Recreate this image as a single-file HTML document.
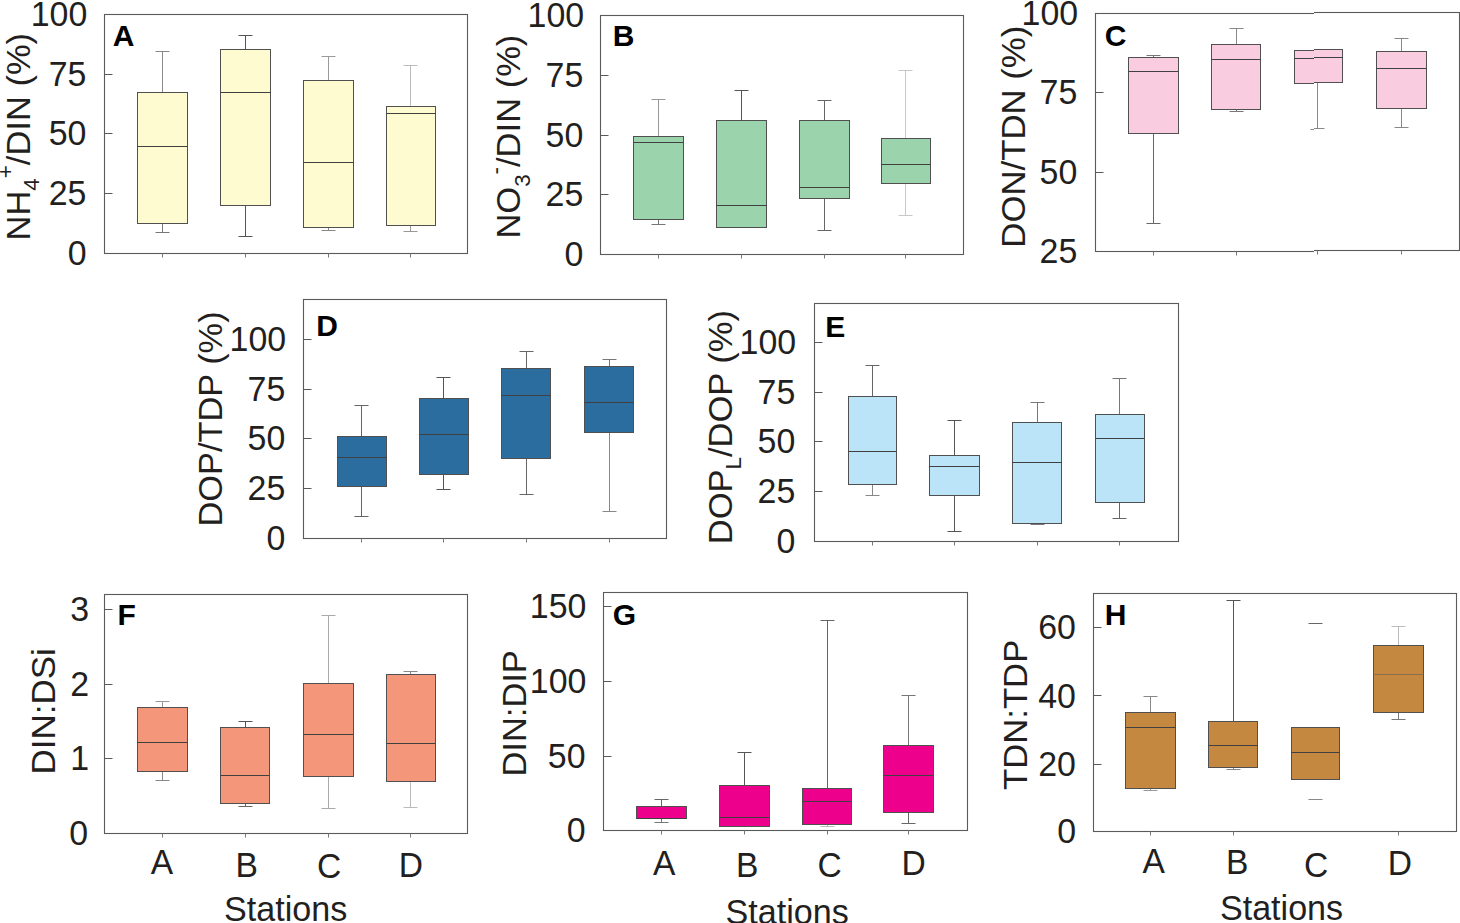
<!DOCTYPE html>
<html><head><meta charset="utf-8"><style>
html,body{margin:0;padding:0;background:#fff;overflow:hidden;}
svg{display:block;}
text{font-family:"Liberation Sans",sans-serif;}
</style></head><body>
<svg width="1460" height="923" viewBox="0 0 1460 923">
<rect width="1460" height="923" fill="#fff"/>
<defs><clipPath id="cL"><rect x="1080" y="0" width="234" height="280"/></clipPath><clipPath id="cR"><rect x="1314" y="0" width="146" height="280"/></clipPath></defs>
<path d="M162.5 51.5V92.5" stroke="#8a8a8a" stroke-width="1" fill="none"/>
<path d="M162.5 223.5V232.5" stroke="#777" stroke-width="1" fill="none"/>
<path d="M155.5 51.5H169.5" stroke="#8a8a8a" stroke-width="1" fill="none"/>
<path d="M155.5 232.5H169.5" stroke="#777" stroke-width="1" fill="none"/>
<rect x="137.5" y="92.5" width="50.0" height="131.0" fill="#fffbd0" stroke="#505050" stroke-width="1"/>
<path d="M137.5 146.5H187.5" stroke="#404040" stroke-width="1" fill="none"/>
<path d="M245.5 35.5V49.5" stroke="#555" stroke-width="1" fill="none"/>
<path d="M245.5 205.5V236.5" stroke="#555" stroke-width="1" fill="none"/>
<path d="M238.5 35.5H252.5" stroke="#555" stroke-width="1" fill="none"/>
<path d="M238.5 236.5H252.5" stroke="#555" stroke-width="1" fill="none"/>
<rect x="220.5" y="49.5" width="50.0" height="156.0" fill="#fffbd0" stroke="#505050" stroke-width="1"/>
<path d="M220.5 92.5H270.5" stroke="#404040" stroke-width="1" fill="none"/>
<path d="M328.5 56.5V80.5" stroke="#9a9a9a" stroke-width="1" fill="none"/>
<path d="M328.5 227.5V230.5" stroke="#888" stroke-width="1" fill="none"/>
<path d="M321.5 56.5H335.5" stroke="#9a9a9a" stroke-width="1" fill="none"/>
<path d="M321.5 230.5H335.5" stroke="#888" stroke-width="1" fill="none"/>
<rect x="303.5" y="80.5" width="50.0" height="147.0" fill="#fffbd0" stroke="#505050" stroke-width="1"/>
<path d="M303.5 162.5H353.5" stroke="#404040" stroke-width="1" fill="none"/>
<path d="M410.5 65.5V106.5" stroke="#bbb" stroke-width="1" fill="none"/>
<path d="M410.5 225.5V231.5" stroke="#999" stroke-width="1" fill="none"/>
<path d="M403.5 65.5H417.5" stroke="#bbb" stroke-width="1" fill="none"/>
<path d="M403.5 231.5H417.5" stroke="#999" stroke-width="1" fill="none"/>
<rect x="386.5" y="106.5" width="49.0" height="119.0" fill="#fffbd0" stroke="#505050" stroke-width="1"/>
<path d="M386.5 113.5H435.5" stroke="#404040" stroke-width="1" fill="none"/>
<rect x="104.5" y="14.5" width="363.0" height="239.0" fill="none" stroke="#5a5a5a" stroke-width="1.1"/>
<path d="M104.5 74.5H112.5M104.5 133.5H112.5M104.5 193.5H112.5" stroke="#5a5a5a" stroke-width="1" fill="none"/>
<path d="M162.5 253.5V257.5M245.5 253.5V257.5M328.5 253.5V257.5M410.5 253.5V257.5" stroke="#777" stroke-width="1" fill="none"/>
<path d="M658.5 99.5V136.5" stroke="#999" stroke-width="1" fill="none"/>
<path d="M658.5 219.5V224.5" stroke="#777" stroke-width="1" fill="none"/>
<path d="M651.5 99.5H665.5" stroke="#999" stroke-width="1" fill="none"/>
<path d="M651.5 224.5H665.5" stroke="#777" stroke-width="1" fill="none"/>
<rect x="633.5" y="136.5" width="50.0" height="83.0" fill="#9bd3ad" stroke="#505050" stroke-width="1"/>
<path d="M633.5 142.5H683.5" stroke="#404040" stroke-width="1" fill="none"/>
<path d="M741.5 90.5V120.5" stroke="#555" stroke-width="1" fill="none"/>
<path d="M741.5 227.5V227.5" stroke="#555" stroke-width="1" fill="none"/>
<path d="M734.5 90.5H748.5" stroke="#555" stroke-width="1" fill="none"/>
<path d="M734.5 227.5H748.5" stroke="#555" stroke-width="1" fill="none"/>
<rect x="716.5" y="120.5" width="50.0" height="107.0" fill="#9bd3ad" stroke="#505050" stroke-width="1"/>
<path d="M716.5 205.5H766.5" stroke="#404040" stroke-width="1" fill="none"/>
<path d="M824.5 100.5V120.5" stroke="#666" stroke-width="1" fill="none"/>
<path d="M824.5 198.5V230.5" stroke="#666" stroke-width="1" fill="none"/>
<path d="M817.5 100.5H831.5" stroke="#666" stroke-width="1" fill="none"/>
<path d="M817.5 230.5H831.5" stroke="#666" stroke-width="1" fill="none"/>
<rect x="799.5" y="120.5" width="50.0" height="78.0" fill="#9bd3ad" stroke="#505050" stroke-width="1"/>
<path d="M799.5 187.5H849.5" stroke="#404040" stroke-width="1" fill="none"/>
<path d="M905.5 70.5V138.5" stroke="#c8c8c8" stroke-width="1" fill="none"/>
<path d="M905.5 183.5V215.5" stroke="#c8c8c8" stroke-width="1" fill="none"/>
<path d="M898.5 70.5H912.5" stroke="#c8c8c8" stroke-width="1" fill="none"/>
<path d="M898.5 215.5H912.5" stroke="#c8c8c8" stroke-width="1" fill="none"/>
<rect x="881.5" y="138.5" width="49.0" height="45.0" fill="#9bd3ad" stroke="#505050" stroke-width="1"/>
<path d="M881.5 164.5H930.5" stroke="#404040" stroke-width="1" fill="none"/>
<rect x="600.5" y="15.5" width="363.0" height="239.0" fill="none" stroke="#5a5a5a" stroke-width="1.1"/>
<path d="M600.5 75.5H608.5M600.5 135.5H608.5M600.5 194.5H608.5" stroke="#5a5a5a" stroke-width="1" fill="none"/>
<path d="M658.5 254.5V258.5M741.5 254.5V258.5M824.5 254.5V258.5M905.5 254.5V258.5" stroke="#777" stroke-width="1" fill="none"/>
<g clip-path="url(#cL)"><path d="M1153.5 55.5V57.5" stroke="#777" stroke-width="1" fill="none"/><path d="M1153.5 133.5V223.5" stroke="#666" stroke-width="1" fill="none"/><path d="M1146.5 55.5H1160.5" stroke="#777" stroke-width="1" fill="none"/><path d="M1146.5 223.5H1160.5" stroke="#666" stroke-width="1" fill="none"/><rect x="1128.5" y="57.5" width="50.0" height="76.0" fill="#f9ccdf" stroke="#505050" stroke-width="1"/><path d="M1128.5 71.5H1178.5" stroke="#404040" stroke-width="1" fill="none"/><path d="M1236.5 28.5V44.5" stroke="#888" stroke-width="1" fill="none"/><path d="M1236.5 109.5V111.5" stroke="#777" stroke-width="1" fill="none"/><path d="M1229.5 28.5H1243.5" stroke="#888" stroke-width="1" fill="none"/><path d="M1229.5 111.5H1243.5" stroke="#777" stroke-width="1" fill="none"/><rect x="1211.5" y="44.5" width="49.0" height="65.0" fill="#f9ccdf" stroke="#505050" stroke-width="1"/><path d="M1211.5 59.5H1260.5" stroke="#404040" stroke-width="1" fill="none"/><path d="M1317.5 50.5V50.5" stroke="#888" stroke-width="1" fill="none"/><path d="M1317.5 83.5V129.5" stroke="#888" stroke-width="1" fill="none"/><path d="M1310.5 50.5H1324.5" stroke="#888" stroke-width="1" fill="none"/><path d="M1310.5 129.5H1324.5" stroke="#888" stroke-width="1" fill="none"/><rect x="1294.5" y="50.5" width="48.0" height="33.0" fill="#f9ccdf" stroke="#505050" stroke-width="1"/><path d="M1294.5 58.5H1342.5" stroke="#404040" stroke-width="1" fill="none"/><path d="M1401.5 39.5V52.5" stroke="#888" stroke-width="1" fill="none"/><path d="M1401.5 109.5V128.5" stroke="#888" stroke-width="1" fill="none"/><path d="M1394.5 39.5H1408.5" stroke="#888" stroke-width="1" fill="none"/><path d="M1394.5 128.5H1408.5" stroke="#888" stroke-width="1" fill="none"/><rect x="1376.5" y="52.5" width="50.0" height="57.0" fill="#f9ccdf" stroke="#505050" stroke-width="1"/><path d="M1376.5 69.5H1426.5" stroke="#404040" stroke-width="1" fill="none"/><rect x="1095.5" y="13.5" width="364.0" height="238.0" fill="none" stroke="#5a5a5a" stroke-width="1.1"/><path d="M1095.5 92.5H1103.5M1095.5 172.5H1103.5" stroke="#5a5a5a" stroke-width="1" fill="none"/><path d="M1153.5 251.5V255.5M1236.5 251.5V255.5M1317.5 251.5V255.5M1401.5 251.5V255.5" stroke="#777" stroke-width="1" fill="none"/></g>
<g transform="translate(0,-1)"><g clip-path="url(#cR)"><path d="M1153.5 55.5V57.5" stroke="#777" stroke-width="1" fill="none"/><path d="M1153.5 133.5V223.5" stroke="#666" stroke-width="1" fill="none"/><path d="M1146.5 55.5H1160.5" stroke="#777" stroke-width="1" fill="none"/><path d="M1146.5 223.5H1160.5" stroke="#666" stroke-width="1" fill="none"/><rect x="1128.5" y="57.5" width="50.0" height="76.0" fill="#f9ccdf" stroke="#505050" stroke-width="1"/><path d="M1128.5 71.5H1178.5" stroke="#404040" stroke-width="1" fill="none"/><path d="M1236.5 28.5V44.5" stroke="#888" stroke-width="1" fill="none"/><path d="M1236.5 109.5V111.5" stroke="#777" stroke-width="1" fill="none"/><path d="M1229.5 28.5H1243.5" stroke="#888" stroke-width="1" fill="none"/><path d="M1229.5 111.5H1243.5" stroke="#777" stroke-width="1" fill="none"/><rect x="1211.5" y="44.5" width="49.0" height="65.0" fill="#f9ccdf" stroke="#505050" stroke-width="1"/><path d="M1211.5 59.5H1260.5" stroke="#404040" stroke-width="1" fill="none"/><path d="M1317.5 50.5V50.5" stroke="#888" stroke-width="1" fill="none"/><path d="M1317.5 83.5V129.5" stroke="#888" stroke-width="1" fill="none"/><path d="M1310.5 50.5H1324.5" stroke="#888" stroke-width="1" fill="none"/><path d="M1310.5 129.5H1324.5" stroke="#888" stroke-width="1" fill="none"/><rect x="1294.5" y="50.5" width="48.0" height="33.0" fill="#f9ccdf" stroke="#505050" stroke-width="1"/><path d="M1294.5 58.5H1342.5" stroke="#404040" stroke-width="1" fill="none"/><path d="M1401.5 39.5V52.5" stroke="#888" stroke-width="1" fill="none"/><path d="M1401.5 109.5V128.5" stroke="#888" stroke-width="1" fill="none"/><path d="M1394.5 39.5H1408.5" stroke="#888" stroke-width="1" fill="none"/><path d="M1394.5 128.5H1408.5" stroke="#888" stroke-width="1" fill="none"/><rect x="1376.5" y="52.5" width="50.0" height="57.0" fill="#f9ccdf" stroke="#505050" stroke-width="1"/><path d="M1376.5 69.5H1426.5" stroke="#404040" stroke-width="1" fill="none"/><rect x="1095.5" y="13.5" width="364.0" height="238.0" fill="none" stroke="#5a5a5a" stroke-width="1.1"/><path d="M1095.5 92.5H1103.5M1095.5 172.5H1103.5" stroke="#5a5a5a" stroke-width="1" fill="none"/><path d="M1153.5 251.5V255.5M1236.5 251.5V255.5M1317.5 251.5V255.5M1401.5 251.5V255.5" stroke="#777" stroke-width="1" fill="none"/></g></g>
<path d="M361.5 405.5V436.5" stroke="#666" stroke-width="1" fill="none"/>
<path d="M361.5 486.5V516.5" stroke="#666" stroke-width="1" fill="none"/>
<path d="M354.5 405.5H368.5" stroke="#666" stroke-width="1" fill="none"/>
<path d="M354.5 516.5H368.5" stroke="#666" stroke-width="1" fill="none"/>
<rect x="337.5" y="436.5" width="49.0" height="50.0" fill="#2c6da0" stroke="#505050" stroke-width="1"/>
<path d="M337.5 457.5H386.5" stroke="#404040" stroke-width="1" fill="none"/>
<path d="M443.5 377.5V398.5" stroke="#555" stroke-width="1" fill="none"/>
<path d="M443.5 474.5V489.5" stroke="#555" stroke-width="1" fill="none"/>
<path d="M436.5 377.5H450.5" stroke="#555" stroke-width="1" fill="none"/>
<path d="M436.5 489.5H450.5" stroke="#555" stroke-width="1" fill="none"/>
<rect x="419.5" y="398.5" width="49.0" height="76.0" fill="#2c6da0" stroke="#505050" stroke-width="1"/>
<path d="M419.5 434.5H468.5" stroke="#404040" stroke-width="1" fill="none"/>
<path d="M526.5 351.5V368.5" stroke="#666" stroke-width="1" fill="none"/>
<path d="M526.5 458.5V494.5" stroke="#666" stroke-width="1" fill="none"/>
<path d="M519.5 351.5H533.5" stroke="#666" stroke-width="1" fill="none"/>
<path d="M519.5 494.5H533.5" stroke="#666" stroke-width="1" fill="none"/>
<rect x="501.5" y="368.5" width="49.0" height="90.0" fill="#2c6da0" stroke="#505050" stroke-width="1"/>
<path d="M501.5 395.5H550.5" stroke="#404040" stroke-width="1" fill="none"/>
<path d="M609.5 359.5V366.5" stroke="#777" stroke-width="1" fill="none"/>
<path d="M609.5 432.5V511.5" stroke="#888" stroke-width="1" fill="none"/>
<path d="M602.5 359.5H616.5" stroke="#777" stroke-width="1" fill="none"/>
<path d="M602.5 511.5H616.5" stroke="#888" stroke-width="1" fill="none"/>
<rect x="584.5" y="366.5" width="49.0" height="66.0" fill="#2c6da0" stroke="#505050" stroke-width="1"/>
<path d="M584.5 402.5H633.5" stroke="#404040" stroke-width="1" fill="none"/>
<rect x="303.5" y="299.5" width="363.0" height="239.0" fill="none" stroke="#5a5a5a" stroke-width="1.1"/>
<path d="M303.5 339.5H311.5M303.5 389.5H311.5M303.5 438.5H311.5M303.5 488.5H311.5" stroke="#5a5a5a" stroke-width="1" fill="none"/>
<path d="M361.5 538.5V542.5M443.5 538.5V542.5M526.5 538.5V542.5M609.5 538.5V542.5" stroke="#777" stroke-width="1" fill="none"/>
<path d="M872.5 365.5V396.5" stroke="#666" stroke-width="1" fill="none"/>
<path d="M872.5 484.5V495.5" stroke="#888" stroke-width="1" fill="none"/>
<path d="M865.5 365.5H879.5" stroke="#666" stroke-width="1" fill="none"/>
<path d="M865.5 495.5H879.5" stroke="#888" stroke-width="1" fill="none"/>
<rect x="848.5" y="396.5" width="48.0" height="88.0" fill="#bce4f9" stroke="#505050" stroke-width="1"/>
<path d="M848.5 451.5H896.5" stroke="#404040" stroke-width="1" fill="none"/>
<path d="M954.5 420.5V455.5" stroke="#555" stroke-width="1" fill="none"/>
<path d="M954.5 495.5V531.5" stroke="#555" stroke-width="1" fill="none"/>
<path d="M947.5 420.5H961.5" stroke="#555" stroke-width="1" fill="none"/>
<path d="M947.5 531.5H961.5" stroke="#555" stroke-width="1" fill="none"/>
<rect x="929.5" y="455.5" width="50.0" height="40.0" fill="#bce4f9" stroke="#505050" stroke-width="1"/>
<path d="M929.5 466.5H979.5" stroke="#404040" stroke-width="1" fill="none"/>
<path d="M1037.5 402.5V422.5" stroke="#777" stroke-width="1" fill="none"/>
<path d="M1037.5 523.5V524.5" stroke="#777" stroke-width="1" fill="none"/>
<path d="M1030.5 402.5H1044.5" stroke="#777" stroke-width="1" fill="none"/>
<path d="M1030.5 524.5H1044.5" stroke="#777" stroke-width="1" fill="none"/>
<rect x="1012.5" y="422.5" width="49.0" height="101.0" fill="#bce4f9" stroke="#505050" stroke-width="1"/>
<path d="M1012.5 462.5H1061.5" stroke="#404040" stroke-width="1" fill="none"/>
<path d="M1119.5 378.5V414.5" stroke="#777" stroke-width="1" fill="none"/>
<path d="M1119.5 502.5V518.5" stroke="#666" stroke-width="1" fill="none"/>
<path d="M1112.5 378.5H1126.5" stroke="#777" stroke-width="1" fill="none"/>
<path d="M1112.5 518.5H1126.5" stroke="#666" stroke-width="1" fill="none"/>
<rect x="1095.5" y="414.5" width="49.0" height="88.0" fill="#bce4f9" stroke="#505050" stroke-width="1"/>
<path d="M1095.5 438.5H1144.5" stroke="#404040" stroke-width="1" fill="none"/>
<rect x="814.5" y="303.5" width="364.0" height="238.0" fill="none" stroke="#5a5a5a" stroke-width="1.1"/>
<path d="M814.5 342.5H822.5M814.5 392.5H822.5M814.5 441.5H822.5M814.5 491.5H822.5" stroke="#5a5a5a" stroke-width="1" fill="none"/>
<path d="M872.5 541.5V545.5M954.5 541.5V545.5M1037.5 541.5V545.5M1119.5 541.5V545.5" stroke="#777" stroke-width="1" fill="none"/>
<path d="M162.5 701.5V707.5" stroke="#999" stroke-width="1" fill="none"/>
<path d="M162.5 771.5V780.5" stroke="#888" stroke-width="1" fill="none"/>
<path d="M155.5 701.5H169.5" stroke="#999" stroke-width="1" fill="none"/>
<path d="M155.5 780.5H169.5" stroke="#888" stroke-width="1" fill="none"/>
<rect x="137.5" y="707.5" width="50.0" height="64.0" fill="#f4967a" stroke="#505050" stroke-width="1"/>
<path d="M137.5 742.5H187.5" stroke="#404040" stroke-width="1" fill="none"/>
<path d="M245.5 721.5V727.5" stroke="#555" stroke-width="1" fill="none"/>
<path d="M245.5 803.5V806.5" stroke="#666" stroke-width="1" fill="none"/>
<path d="M238.5 721.5H252.5" stroke="#555" stroke-width="1" fill="none"/>
<path d="M238.5 806.5H252.5" stroke="#666" stroke-width="1" fill="none"/>
<rect x="220.5" y="727.5" width="49.0" height="76.0" fill="#f4967a" stroke="#505050" stroke-width="1"/>
<path d="M220.5 775.5H269.5" stroke="#404040" stroke-width="1" fill="none"/>
<path d="M328.5 615.5V683.5" stroke="#aaa" stroke-width="1" fill="none"/>
<path d="M328.5 776.5V808.5" stroke="#aaa" stroke-width="1" fill="none"/>
<path d="M321.5 615.5H335.5" stroke="#aaa" stroke-width="1" fill="none"/>
<path d="M321.5 808.5H335.5" stroke="#aaa" stroke-width="1" fill="none"/>
<rect x="303.5" y="683.5" width="50.0" height="93.0" fill="#f4967a" stroke="#505050" stroke-width="1"/>
<path d="M303.5 734.5H353.5" stroke="#404040" stroke-width="1" fill="none"/>
<path d="M410.5 671.5V674.5" stroke="#888" stroke-width="1" fill="none"/>
<path d="M410.5 781.5V807.5" stroke="#bbb" stroke-width="1" fill="none"/>
<path d="M403.5 671.5H417.5" stroke="#888" stroke-width="1" fill="none"/>
<path d="M403.5 807.5H417.5" stroke="#bbb" stroke-width="1" fill="none"/>
<rect x="386.5" y="674.5" width="49.0" height="107.0" fill="#f4967a" stroke="#505050" stroke-width="1"/>
<path d="M386.5 743.5H435.5" stroke="#404040" stroke-width="1" fill="none"/>
<rect x="104.5" y="594.5" width="363.0" height="239.0" fill="none" stroke="#5a5a5a" stroke-width="1.1"/>
<path d="M104.5 609.5H112.5M104.5 684.5H112.5M104.5 758.5H112.5" stroke="#5a5a5a" stroke-width="1" fill="none"/>
<path d="M162.5 833.5V837.5M245.5 833.5V837.5M328.5 833.5V837.5M410.5 833.5V837.5" stroke="#777" stroke-width="1" fill="none"/>
<path d="M661.5 799.5V806.5" stroke="#666" stroke-width="1" fill="none"/>
<path d="M661.5 818.5V822.5" stroke="#777" stroke-width="1" fill="none"/>
<path d="M654.5 799.5H668.5" stroke="#666" stroke-width="1" fill="none"/>
<path d="M654.5 822.5H668.5" stroke="#777" stroke-width="1" fill="none"/>
<rect x="636.5" y="806.5" width="50.0" height="12.0" fill="#ec008c" stroke="#505050" stroke-width="1"/>
<path d="M636.5 818.5H686.5" stroke="#404040" stroke-width="1" fill="none"/>
<path d="M744.5 752.5V785.5" stroke="#555" stroke-width="1" fill="none"/>
<path d="M744.5 826.5V826.5" stroke="#555" stroke-width="1" fill="none"/>
<path d="M737.5 752.5H751.5" stroke="#555" stroke-width="1" fill="none"/>
<path d="M737.5 826.5H751.5" stroke="#555" stroke-width="1" fill="none"/>
<rect x="719.5" y="785.5" width="50.0" height="41.0" fill="#ec008c" stroke="#505050" stroke-width="1"/>
<path d="M719.5 817.5H769.5" stroke="#404040" stroke-width="1" fill="none"/>
<path d="M827.5 620.5V788.5" stroke="#666" stroke-width="1" fill="none"/>
<path d="M827.5 824.5V826.5" stroke="#bbb" stroke-width="1" fill="none"/>
<path d="M820.5 620.5H834.5" stroke="#666" stroke-width="1" fill="none"/>
<path d="M820.5 826.5H834.5" stroke="#bbb" stroke-width="1" fill="none"/>
<rect x="802.5" y="788.5" width="49.0" height="36.0" fill="#ec008c" stroke="#505050" stroke-width="1"/>
<path d="M802.5 801.5H851.5" stroke="#404040" stroke-width="1" fill="none"/>
<path d="M908.5 695.5V745.5" stroke="#777" stroke-width="1" fill="none"/>
<path d="M908.5 812.5V823.5" stroke="#666" stroke-width="1" fill="none"/>
<path d="M901.5 695.5H915.5" stroke="#777" stroke-width="1" fill="none"/>
<path d="M901.5 823.5H915.5" stroke="#666" stroke-width="1" fill="none"/>
<rect x="883.5" y="745.5" width="50.0" height="67.0" fill="#ec008c" stroke="#505050" stroke-width="1"/>
<path d="M883.5 775.5H933.5" stroke="#404040" stroke-width="1" fill="none"/>
<rect x="603.5" y="592.5" width="364.0" height="238.0" fill="none" stroke="#5a5a5a" stroke-width="1.1"/>
<path d="M603.5 606.5H611.5M603.5 681.5H611.5M603.5 756.5H611.5" stroke="#5a5a5a" stroke-width="1" fill="none"/>
<path d="M661.5 830.5V834.5M744.5 830.5V834.5M827.5 830.5V834.5M908.5 830.5V834.5" stroke="#777" stroke-width="1" fill="none"/>
<path d="M1150.5 696.5V712.5" stroke="#888" stroke-width="1" fill="none"/>
<path d="M1150.5 788.5V790.5" stroke="#999" stroke-width="1" fill="none"/>
<path d="M1143.5 696.5H1157.5" stroke="#888" stroke-width="1" fill="none"/>
<path d="M1143.5 790.5H1157.5" stroke="#999" stroke-width="1" fill="none"/>
<rect x="1125.5" y="712.5" width="50.0" height="76.0" fill="#c48840" stroke="#505050" stroke-width="1"/>
<path d="M1125.5 727.5H1175.5" stroke="#404040" stroke-width="1" fill="none"/>
<path d="M1233.5 600.5V721.5" stroke="#555" stroke-width="1" fill="none"/>
<path d="M1233.5 767.5V769.5" stroke="#888" stroke-width="1" fill="none"/>
<path d="M1226.5 600.5H1240.5" stroke="#555" stroke-width="1" fill="none"/>
<path d="M1226.5 769.5H1240.5" stroke="#888" stroke-width="1" fill="none"/>
<rect x="1208.5" y="721.5" width="49.0" height="46.0" fill="#c48840" stroke="#505050" stroke-width="1"/>
<path d="M1208.5 745.5H1257.5" stroke="#404040" stroke-width="1" fill="none"/>
<path d="M1308.5 623.5H1322.5" stroke="#666" stroke-width="1" fill="none"/>
<path d="M1308.5 799.5H1322.5" stroke="#888" stroke-width="1" fill="none"/>
<rect x="1291.5" y="727.5" width="48.0" height="52.0" fill="#c48840" stroke="#505050" stroke-width="1"/>
<path d="M1291.5 752.5H1339.5" stroke="#404040" stroke-width="1" fill="none"/>
<path d="M1398.5 626.5V645.5" stroke="#bbb" stroke-width="1" fill="none"/>
<path d="M1398.5 712.5V719.5" stroke="#777" stroke-width="1" fill="none"/>
<path d="M1391.5 626.5H1405.5" stroke="#bbb" stroke-width="1" fill="none"/>
<path d="M1391.5 719.5H1405.5" stroke="#777" stroke-width="1" fill="none"/>
<rect x="1373.5" y="645.5" width="50.0" height="67.0" fill="#c48840" stroke="#505050" stroke-width="1"/>
<path d="M1373.5 674.5H1423.5" stroke="#8a6d4a" stroke-width="1" fill="none"/>
<rect x="1093.5" y="593.5" width="363.0" height="238.0" fill="none" stroke="#5a5a5a" stroke-width="1.1"/>
<path d="M1093.5 627.5H1101.5M1093.5 695.5H1101.5M1093.5 764.5H1101.5" stroke="#5a5a5a" stroke-width="1" fill="none"/>
<path d="M1150.5 831.5V835.5M1233.5 831.5V835.5M1398.5 831.5V835.5" stroke="#777" stroke-width="1" fill="none"/>
<text transform="translate(30.700,25.800) scale(0.97,1)" x="0" y="0" font-size="35" font-weight="normal" text-anchor="start" fill="#231f20">100</text>
<text transform="translate(48.700,85.900) scale(0.97,1)" x="0" y="0" font-size="35" font-weight="normal" text-anchor="start" fill="#231f20">75</text>
<text transform="translate(48.700,145.100) scale(0.97,1)" x="0" y="0" font-size="35" font-weight="normal" text-anchor="start" fill="#231f20">50</text>
<text transform="translate(48.700,205.000) scale(0.97,1)" x="0" y="0" font-size="35" font-weight="normal" text-anchor="start" fill="#231f20">25</text>
<text transform="translate(67.700,265.000) scale(0.97,1)" x="0" y="0" font-size="35" font-weight="normal" text-anchor="start" fill="#231f20">0</text>
<text transform="translate(112.800,45.600)" x="0" y="0" font-size="30" font-weight="bold" text-anchor="start" fill="#000">A</text>
<text transform="translate(527.500,26.800) scale(0.97,1)" x="0" y="0" font-size="35" font-weight="normal" text-anchor="start" fill="#231f20">100</text>
<text transform="translate(545.500,87.000) scale(0.97,1)" x="0" y="0" font-size="35" font-weight="normal" text-anchor="start" fill="#231f20">75</text>
<text transform="translate(545.500,147.000) scale(0.97,1)" x="0" y="0" font-size="35" font-weight="normal" text-anchor="start" fill="#231f20">50</text>
<text transform="translate(545.500,206.000) scale(0.97,1)" x="0" y="0" font-size="35" font-weight="normal" text-anchor="start" fill="#231f20">25</text>
<text transform="translate(564.500,265.800) scale(0.97,1)" x="0" y="0" font-size="35" font-weight="normal" text-anchor="start" fill="#231f20">0</text>
<text transform="translate(612.800,45.800)" x="0" y="0" font-size="30" font-weight="bold" text-anchor="start" fill="#000">B</text>
<text transform="translate(1021.600,25.000) scale(0.97,1)" x="0" y="0" font-size="35" font-weight="normal" text-anchor="start" fill="#231f20">100</text>
<text transform="translate(1039.600,104.000) scale(0.97,1)" x="0" y="0" font-size="35" font-weight="normal" text-anchor="start" fill="#231f20">75</text>
<text transform="translate(1039.600,183.600) scale(0.97,1)" x="0" y="0" font-size="35" font-weight="normal" text-anchor="start" fill="#231f20">50</text>
<text transform="translate(1039.600,263.400) scale(0.97,1)" x="0" y="0" font-size="35" font-weight="normal" text-anchor="start" fill="#231f20">25</text>
<text transform="translate(1104.850,45.550)" x="0" y="0" font-size="30" font-weight="bold" text-anchor="start" fill="#000">C</text>
<text transform="translate(229.600,351.000) scale(0.97,1)" x="0" y="0" font-size="35" font-weight="normal" text-anchor="start" fill="#231f20">100</text>
<text transform="translate(247.600,400.900) scale(0.97,1)" x="0" y="0" font-size="35" font-weight="normal" text-anchor="start" fill="#231f20">75</text>
<text transform="translate(247.600,450.100) scale(0.97,1)" x="0" y="0" font-size="35" font-weight="normal" text-anchor="start" fill="#231f20">50</text>
<text transform="translate(247.600,499.900) scale(0.97,1)" x="0" y="0" font-size="35" font-weight="normal" text-anchor="start" fill="#231f20">25</text>
<text transform="translate(266.600,549.900) scale(0.97,1)" x="0" y="0" font-size="35" font-weight="normal" text-anchor="start" fill="#231f20">0</text>
<text transform="translate(316.250,336.450)" x="0" y="0" font-size="30" font-weight="bold" text-anchor="start" fill="#000">D</text>
<text transform="translate(739.600,354.000) scale(0.97,1)" x="0" y="0" font-size="35" font-weight="normal" text-anchor="start" fill="#231f20">100</text>
<text transform="translate(757.600,404.000) scale(0.97,1)" x="0" y="0" font-size="35" font-weight="normal" text-anchor="start" fill="#231f20">75</text>
<text transform="translate(757.600,453.400) scale(0.97,1)" x="0" y="0" font-size="35" font-weight="normal" text-anchor="start" fill="#231f20">50</text>
<text transform="translate(757.600,503.100) scale(0.97,1)" x="0" y="0" font-size="35" font-weight="normal" text-anchor="start" fill="#231f20">25</text>
<text transform="translate(776.600,552.700) scale(0.97,1)" x="0" y="0" font-size="35" font-weight="normal" text-anchor="start" fill="#231f20">0</text>
<text transform="translate(825.250,336.500)" x="0" y="0" font-size="30" font-weight="bold" text-anchor="start" fill="#000">E</text>
<text transform="translate(70.300,621.200) scale(0.97,1)" x="0" y="0" font-size="35" font-weight="normal" text-anchor="start" fill="#231f20">3</text>
<text transform="translate(70.300,696.100) scale(0.97,1)" x="0" y="0" font-size="35" font-weight="normal" text-anchor="start" fill="#231f20">2</text>
<text transform="translate(70.300,770.300) scale(0.97,1)" x="0" y="0" font-size="35" font-weight="normal" text-anchor="start" fill="#231f20">1</text>
<text transform="translate(69.300,845.000) scale(0.97,1)" x="0" y="0" font-size="35" font-weight="normal" text-anchor="start" fill="#231f20">0</text>
<text transform="translate(117.600,624.800)" x="0" y="0" font-size="30" font-weight="bold" text-anchor="start" fill="#000">F</text>
<text transform="translate(529.800,618.400) scale(0.97,1)" x="0" y="0" font-size="35" font-weight="normal" text-anchor="start" fill="#231f20">150</text>
<text transform="translate(529.800,692.700) scale(0.97,1)" x="0" y="0" font-size="35" font-weight="normal" text-anchor="start" fill="#231f20">100</text>
<text transform="translate(547.800,767.700) scale(0.97,1)" x="0" y="0" font-size="35" font-weight="normal" text-anchor="start" fill="#231f20">50</text>
<text transform="translate(566.800,842.000) scale(0.97,1)" x="0" y="0" font-size="35" font-weight="normal" text-anchor="start" fill="#231f20">0</text>
<text transform="translate(612.800,625.000)" x="0" y="0" font-size="30" font-weight="bold" text-anchor="start" fill="#000">G</text>
<text transform="translate(1038.200,639.100) scale(0.97,1)" x="0" y="0" font-size="35" font-weight="normal" text-anchor="start" fill="#231f20">60</text>
<text transform="translate(1038.200,707.500) scale(0.97,1)" x="0" y="0" font-size="35" font-weight="normal" text-anchor="start" fill="#231f20">40</text>
<text transform="translate(1038.200,776.000) scale(0.97,1)" x="0" y="0" font-size="35" font-weight="normal" text-anchor="start" fill="#231f20">20</text>
<text transform="translate(1057.200,843.400) scale(0.97,1)" x="0" y="0" font-size="35" font-weight="normal" text-anchor="start" fill="#231f20">0</text>
<text transform="translate(1104.800,624.800)" x="0" y="0" font-size="30" font-weight="bold" text-anchor="start" fill="#000">H</text>
<text transform="translate(150.800,873.800) scale(0.96,1)" x="0" y="0" font-size="35" font-weight="normal" text-anchor="start" fill="#231f20">A</text>
<text transform="translate(235.500,877.100) scale(0.96,1)" x="0" y="0" font-size="35" font-weight="normal" text-anchor="start" fill="#231f20">B</text>
<text transform="translate(317.000,878.200) scale(0.96,1)" x="0" y="0" font-size="35" font-weight="normal" text-anchor="start" fill="#231f20">C</text>
<text transform="translate(398.800,876.700) scale(0.96,1)" x="0" y="0" font-size="35" font-weight="normal" text-anchor="start" fill="#231f20">D</text>
<text transform="translate(653.000,874.500) scale(0.96,1)" x="0" y="0" font-size="35" font-weight="normal" text-anchor="start" fill="#231f20">A</text>
<text transform="translate(735.900,876.500) scale(0.96,1)" x="0" y="0" font-size="35" font-weight="normal" text-anchor="start" fill="#231f20">B</text>
<text transform="translate(817.600,876.500) scale(0.96,1)" x="0" y="0" font-size="35" font-weight="normal" text-anchor="start" fill="#231f20">C</text>
<text transform="translate(901.600,874.900) scale(0.96,1)" x="0" y="0" font-size="35" font-weight="normal" text-anchor="start" fill="#231f20">D</text>
<text transform="translate(1142.600,872.700) scale(0.96,1)" x="0" y="0" font-size="35" font-weight="normal" text-anchor="start" fill="#231f20">A</text>
<text transform="translate(1225.900,873.800) scale(0.96,1)" x="0" y="0" font-size="35" font-weight="normal" text-anchor="start" fill="#231f20">B</text>
<text transform="translate(1303.900,876.500) scale(0.96,1)" x="0" y="0" font-size="35" font-weight="normal" text-anchor="start" fill="#231f20">C</text>
<text transform="translate(1387.700,874.900) scale(0.96,1)" x="0" y="0" font-size="35" font-weight="normal" text-anchor="start" fill="#231f20">D</text>
<text transform="translate(224.000,920.700) scale(0.975,1)" x="0" y="0" font-size="35" font-weight="normal" text-anchor="start" fill="#231f20">Stations</text>
<text transform="translate(725.500,924.000) scale(0.975,1)" x="0" y="0" font-size="35" font-weight="normal" text-anchor="start" fill="#231f20">Stations</text>
<text transform="translate(1219.900,920.200) scale(0.975,1)" x="0" y="0" font-size="35" font-weight="normal" text-anchor="start" fill="#231f20">Stations</text>
<text transform="translate(29.950,240.500) rotate(-90) scale(1.015,1)" x="0" y="0" font-size="34" font-weight="normal" text-anchor="start" fill="#231f20">NH<tspan font-size="22" dy="9.5">4</tspan><tspan font-size="22" dy="-26">+</tspan><tspan dy="16.5">/DIN (%)</tspan></text>
<text transform="translate(519.650,238.600) rotate(-90) scale(1.0153,1)" x="0" y="0" font-size="34" font-weight="normal" text-anchor="start" fill="#231f20">NO<tspan font-size="22" dy="10">3</tspan><tspan font-size="22" dy="-26.5">-</tspan><tspan dy="16.5">/DIN (%)</tspan></text>
<text transform="translate(1024.800,247.650) rotate(-90) scale(1.0222,1)" x="0" y="0" font-size="34" font-weight="normal" text-anchor="start" fill="#231f20">DON/TDN (%)</text>
<text transform="translate(222.100,526.600) rotate(-90) scale(1.0115,1)" x="0" y="0" font-size="34" font-weight="normal" text-anchor="start" fill="#231f20">DOP/TDP (%)</text>
<text transform="translate(731.500,544.200) rotate(-90) scale(1.015,1)" x="0" y="0" font-size="34" font-weight="normal" text-anchor="start" fill="#231f20">DOP<tspan font-size="22" dy="9.5">L</tspan><tspan dy="-9.5">/DOP (%)</tspan></text>
<text transform="translate(54.900,774.550) rotate(-90) scale(1.0297,1)" x="0" y="0" font-size="34" font-weight="normal" text-anchor="start" fill="#231f20">DIN:DSi</text>
<text transform="translate(525.950,776.500) rotate(-90) scale(1.0133,1)" x="0" y="0" font-size="34" font-weight="normal" text-anchor="start" fill="#231f20">DIN:DIP</text>
<text transform="translate(1027.350,789.950) rotate(-90) scale(1.02,1)" x="0" y="0" font-size="34" font-weight="normal" text-anchor="start" fill="#231f20">TDN:TDP</text>
</svg>
</body></html>
